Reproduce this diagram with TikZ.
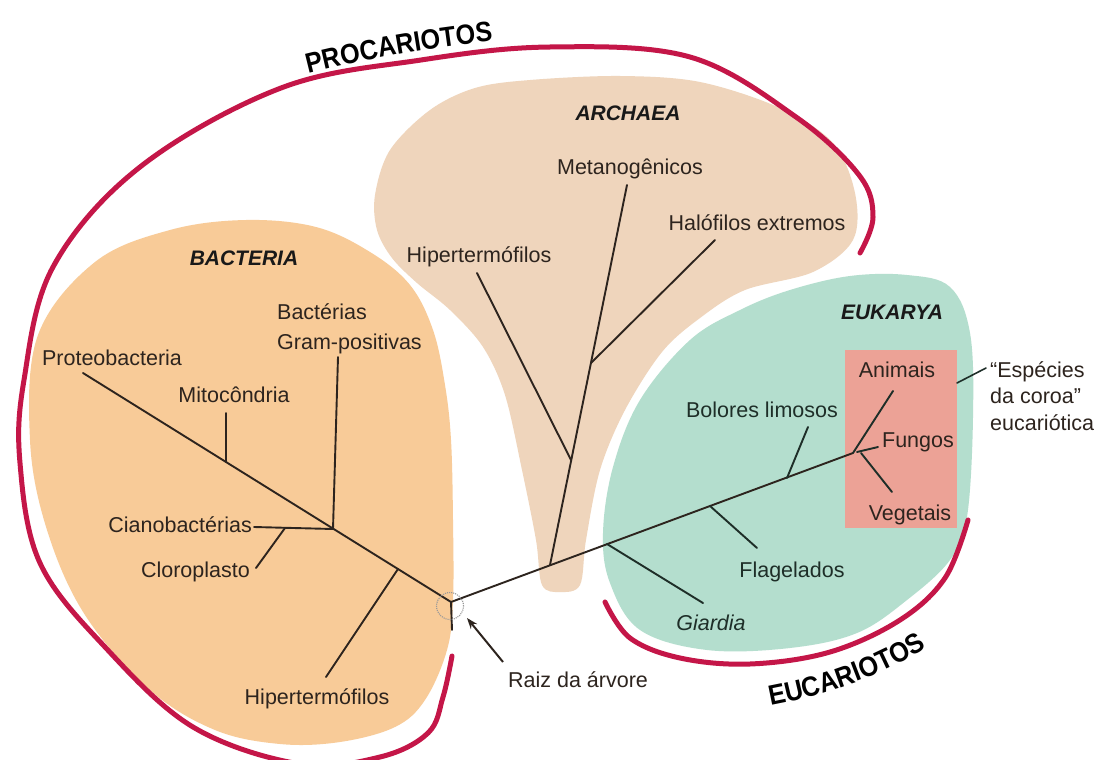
\documentclass[tikz,border=0pt]{standalone}
\usepackage{fontspec}
\setmainfont{Liberation Sans}
\newfontfamily\bigfont[FakeStretch=0.9]{Liberation Sans}
\usetikzlibrary{arrows.meta,decorations.text}
\definecolor{bactc}{RGB}{248,203,152}
\definecolor{archc}{RGB}{239,213,188}
\definecolor{eukc}{RGB}{180,222,206}
\definecolor{crownc}{RGB}{236,162,150}
\definecolor{redc}{RGB}{196,22,72}
\definecolor{ink}{RGB}{45,36,30}
\definecolor{inke}{RGB}{30,46,40}
\tikzset{
  lbl/.style={font=\fontsize{21.5}{24}\selectfont, text=ink, inner sep=0pt, anchor=base},
  lble/.style={lbl, text=inke},
  dom/.style={font=\fontsize{21}{24}\selectfont\bfseries\itshape, text=black!90, inner sep=0pt, anchor=base},
  br/.style={draw=ink, line width=1.9pt, line cap=round, line join=round},
  bre/.style={br, draw=inke},
  redline/.style={draw=redc, line width=5pt, line cap=round}
}
\begin{document}
\begin{tikzpicture}[x=1pt,y=-1pt]
\useasboundingbox (0,0) rectangle (1100,760);
\fill[white] (0,0) rectangle (1100,760);

% blobs
\fill[bactc] plot[smooth cycle, tension=0.6] coordinates {
 (246,220) (316,227) (370,252) (410,285) (433,330) (445,385) (451,440)
 (453,520) (453,600) (447,650) (425,700) (395,727) (340,742) (280,744)
 (215,730) (150,690) (85,615) (47,530) (30,440) (38,335) (95,262) (170,230)};
\fill[archc] plot[smooth cycle, tension=0.55] coordinates {
 (530,80) (620,76) (700,82) (780,108) (833,143) (855,193) (853,240)
 (813,272) (745,290) (700,318) (662,352) (625,410) (600,470) (586,540)
 (580,585) (560,592) (542,585) (536,540) (522,470) (505,395) (483,347)
 (450,310) (417,283) (392,258) (377,230) (375,195) (390,150) (430,110) (475,88)};
\fill[eukc] plot[smooth cycle, tension=0.6] coordinates {
 (790,290) (850,276) (907,275) (950,287) (970,333) (973,417) (967,517)
 (950,560) (907,600) (857,633) (790,648) (707,650) (640,630) (610,583)
 (603,533) (613,467) (640,400) (690,340) (740,310)};
\node[fill=crownc, inner sep=0pt, minimum width=112pt, minimum height=178pt, anchor=north west] (crown) at (845,350) {};

% red brackets
\draw[redline] plot[smooth, tension=0.6] coordinates {
 (452,656) (443,697) (428,733) (380,757) (300,764) (193,727) (105,647) (40,563)
 (20,463) (24,380) (53,267) (140,167) (281,88) (421,60) (550,47)
 (690,57) (796,117) (859,175) (873,217) (860,253)};
\draw[redline] plot[smooth, tension=0.6] coordinates {
 (605,602) (630,638) (680,658) (750,664) (830,652) (900,620) (945,578) (968,520)};

% curved titles
\path[decorate, decoration={text along path, text align=center,
  text={|\bigfont\fontsize{28}{30}\selectfont\bfseries|PROCARIOTOS}}]
  (288,79) .. controls (350,62) and (430,46) .. (514,39);
\path[decorate, decoration={text along path, text align=center,
  text={|\bigfont\fontsize{28}{30}\selectfont\bfseries|EUCARIOTOS}}]
  (745,710) .. controls (800,702) and (885,682) .. (948,632);

% tree coordinates
\coordinate (R) at (451,602);
\coordinate (Rs) at (452,630);
\coordinate (bP) at (83,373);
\coordinate (bH) at (398,569); \coordinate (bHe) at (326,677);
\coordinate (bG) at (333,529); \coordinate (bGe) at (338,357);
\coordinate (bCe) at (254,527);
\coordinate (bCl) at (285,528); \coordinate (bCle) at (256,568);
\coordinate (bM) at (226,462); \coordinate (bMe) at (226,413);
\coordinate (C) at (853,453);
\coordinate (aS) at (550,565); \coordinate (aMe) at (627,185);
\coordinate (aH) at (571,460); \coordinate (aHe) at (477,273);
\coordinate (aX) at (591,363); \coordinate (aXe) at (715,240);
\coordinate (eG) at (607,544); \coordinate (eGe) at (703,603);
\coordinate (eF) at (710,506); \coordinate (eFe) at (757,548);
\coordinate (eB) at (787,478); \coordinate (eBe) at (808,427);
\coordinate (cA) at (893,391);
\coordinate (cF0) at (857,452); \coordinate (cFe) at (878,447);
\coordinate (cV0) at (861,453); \coordinate (cVe) at (892,492);
\coordinate (cb) at (957,383); \coordinate (ce) at (986,368);
\coordinate (arT) at (503,662); \coordinate (arH) at (467,618);

% bacteria branches
\draw[br] (bP) -- (R);
\draw[br] (R) -- (Rs);
\draw[br] (bH) -- (bHe);
\draw[br] (bG) -- (bGe);
\draw[br] (bG) -- (bCe);
\draw[br] (bCl) -- (bCle);
\draw[br] (bM) -- (bMe);
% archaea
\draw[br] (R) -- (C);
\draw[br] (aS) -- (aMe);
\draw[br] (aH) -- (aHe);
\draw[br] (aX) -- (aXe);
% eukarya
\draw[bre] (eG) -- (eGe);
\draw[bre] (eF) -- (eFe);
\draw[bre] (eB) -- (eBe);
\draw[bre] (C) -- (cA);
\draw[bre] (cF0) -- (cFe);
\draw[bre] (cV0) -- (cVe);
\draw[bre, line width=1.6pt] (cb) -- (ce);

% root
\node[circle, draw=gray!80, densely dotted, line width=1.1pt, minimum size=27pt, inner sep=0pt] (rootc) at (450,606) {};
\draw[draw=ink, line width=2pt, -{Stealth[length=11pt,width=8pt]}] (arT) -- (arH);

% labels
\node[dom] (nbac) at (244,265) {BACTERIA};
\node[dom] (narc) at (628,120) {ARCHAEA};
\node[dom] (neuk) at (892,319) {EUKARYA};
\node[lbl] (nprot) at (112,365) {Proteobacteria};
\node[lbl] (nmit) at (234,402) {Mitocôndria};
\node[lbl, anchor=base west] (ngp1) at (277,319) {Bactérias};
\node[lbl, anchor=base west] (ngp2) at (277,349) {Gram-positivas};
\node[lbl, anchor=base east] (ncia) at (252,532) {Cianobactérias};
\node[lbl, anchor=base east] (nclo) at (250,577) {Cloroplasto};
\node[lbl] (nhb) at (317,704) {Hipertermófilos};
\node[lbl] (nha) at (479,262) {Hipertermófilos};
\node[lbl] (nmet) at (630,174) {Metanogênicos};
\node[lbl] (nhal) at (757,230) {Halófilos extremos};
\node[lble] (nbol) at (762,417) {Bolores limosos};
\node[lbl] (nani) at (897,377) {Animais};
\node[lbl] (nfun) at (918,447) {Fungos};
\node[lbl] (nveg) at (910,520) {Vegetais};
\node[lble] (nfla) at (792,577) {Flagelados};
\node[lble, font=\fontsize{21.5}{24}\selectfont\itshape] (ngia) at (711,630) {Giardia};
\node[lbl] (nraiz) at (578,687) {Raiz da árvore};
\node[lbl, font=\fontsize{21.5}{26.5}\selectfont, align=left, anchor=north west] (nesp) at (990,361) {“Espécies\\da coroa”\\eucariótica};
\end{tikzpicture}
\end{document}
